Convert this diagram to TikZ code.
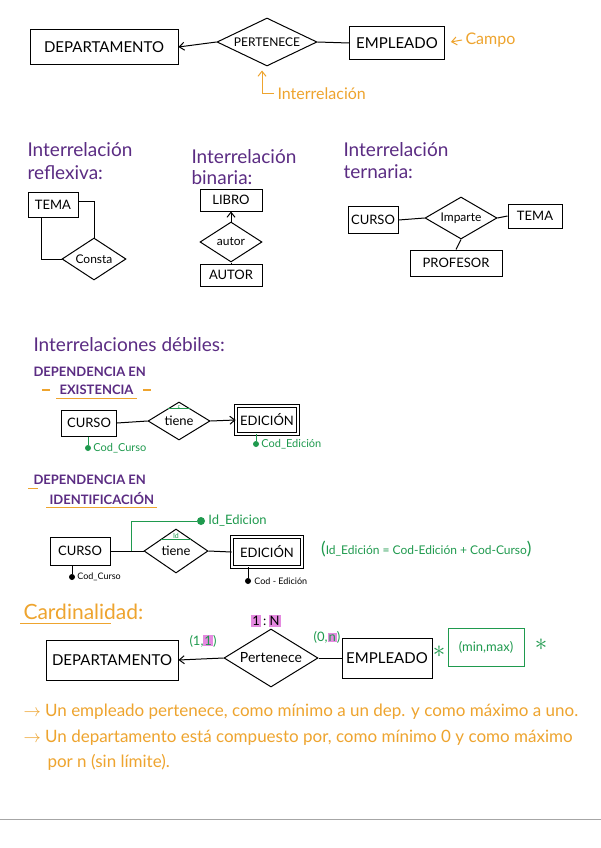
\documentclass[tikz,border=0pt]{standalone}
\usepackage{fontspec}
\setmainfont{Lato}
\usepackage{xcolor}
\usepackage{tikz}
\usetikzlibrary{arrows.meta, positioning, shapes.geometric}
\definecolor{morado}{HTML}{5B2C83}
\definecolor{naranja}{HTML}{EEA42E}
\definecolor{verde}{HTML}{1F9A4E}
\definecolor{rosa}{HTML}{E58AE0}
\newcommand{\marca}[1]{{\setlength{\fboxsep}{1pt}\colorbox{rosa}{#1}}}
\tikzset{
  >={Straight Barb[length=5pt,width=8pt]},
  % Entidades e interrelaciones
  entidad/.style={draw, line width=1pt, rectangle, inner sep=2pt, font=\fontsize{13}{15}\selectfont},
  entidad grande/.style={entidad, font=\fontsize{15}{18}\selectfont},
  entidad debil/.style={entidad, double, double distance=2.5pt, line width=0.8pt},
  interrel/.style={draw, line width=1pt, diamond, aspect=2.4, inner sep=0pt, font=\fontsize{12}{14}\selectfont},
  conecta/.style={line width=1pt},
  conecta flecha/.style={->, line width=1pt},
  % Textos
  titulo/.style={text=morado, anchor=west, font=\fontsize{19}{22}\selectfont},
  subtitulo/.style={text=morado, anchor=west, font=\bfseries\fontsize{13}{15}\selectfont},
  nota/.style={text=naranja, anchor=west, font=\fontsize{16}{19}\selectfont},
  explica/.style={nota, font=\fontsize{17}{20}\selectfont},
  subraya/.style={naranja, line width=1.2pt},
  flecha naranja/.style={->, naranja, line width=1pt},
  % Atributos
  punto/.style={circle, fill=verde, inner sep=0pt, minimum size=6},
  punto negro/.style={punto, fill=black},
  atributo/.style={text=verde, anchor=west, inner sep=1pt, font=\fontsize{11}{13}\selectfont},
  identif/.style={verde, line width=1pt},
  asterisco/.style={text=verde, inner sep=0pt, font=\fontsize{40}{40}\selectfont}
}
\begin{document}
\begin{tikzpicture}[x=1pt, y=-1pt]
  \useasboundingbox[fill=white] (0,0) rectangle (601,848);

  % Campo e interrelacion
  \node[entidad grande, minimum width=148, minimum height=35] (dep) at (104,47) {DEPARTAMENTO};
  \node[interrel, minimum width=100, minimum height=48] (pert) at (267,42) {PERTENECE};
  \node[entidad grande, minimum width=95, minimum height=33] (emp) at (397,43) {EMPLEADO};
  \draw[conecta flecha] (pert.west) -- (dep.east);
  \draw[conecta] (pert.east) -- (emp.west);
  \node[nota] (campo) at (462,40) {Campo};
  \draw[flecha naranja, shorten >=6pt] (campo.west) -- (emp.east);
  \node[nota] (interr) at (274,94) {Interrelación};
  \draw[flecha naranja] (interr.west) -| ([xshift=-5pt,yshift=-4pt]pert.south);

  % Reflexiva
  \node[titulo] (tref1) at (24,150) {Interrelación};
  \node[titulo] (tref2) at (24,173) {reflexiva:};
  \node[entidad, minimum width=50, minimum height=25] (tema1) at (53,205) {TEMA};
  \node[interrel, minimum width=64, minimum height=42] (consta) at (94,259) {Consta};
  \draw[conecta] ([yshift=4pt]tema1.east) -| (consta.north);
  \draw[conecta] ([xshift=-12pt]tema1.south) |- (consta.west);

  % Binaria
  \node[titulo] (tbin1) at (188,157) {Interrelación};
  \node[titulo] (tbin2) at (188,178) {binaria:};
  \node[entidad, minimum width=62, minimum height=22] (libro) at (231,200) {LIBRO};
  \node[interrel, minimum width=62, minimum height=40] (autor) at (231,242) {autor};
  \node[entidad, minimum width=62, minimum height=22] (autorE) at (231,275) {AUTOR};
  \draw[conecta flecha] (autor.north) -- (libro.south);
  \draw[conecta] (autor.south) -- (autorE.north);

  % Ternaria
  \node[titulo] (tter1) at (340,150) {Interrelación};
  \node[titulo] (tter2) at (340,172) {ternaria:};
  \node[entidad, minimum width=50, minimum height=27] (curso0) at (373,220) {CURSO};
  \node[interrel, minimum width=72, minimum height=42] (imparte) at (461,218) {Imparte};
  \node[entidad, minimum width=54, minimum height=24] (tema2) at (535,216) {TEMA};
  \node[entidad, minimum width=92, minimum height=26] (prof) at (456,263) {PROFESOR};
  \draw[conecta] (curso0.east) -- (imparte.west);
  \draw[conecta] (imparte.east) -- (tema2.west);
  \draw[conecta] (imparte.south) -- (prof.north);

  % Debiles: existencia
  \node[titulo] (tdeb) at (30,345) {Interrelaciones débiles:};
  \node[subtitulo] (dex1) at (30,372) {DEPENDENCIA EN};
  \node[subtitulo] (dex2) at (56,390) {EXISTENCIA};
  \draw[subraya] (dex2.south west) -- (dex2.south east);
  \draw[subraya] ([xshift=-6pt]dex2.west) -- ++(-8,0);
  \draw[subraya] ([xshift=6pt]dex2.east) -- ++(8,0);
  \node[entidad, minimum width=55, minimum height=26] (curso1) at (89,423) {CURSO};
  \node[interrel, minimum width=62, minimum height=38, font=\fontsize{13}{15}\selectfont] (tiene1) at (179,421) {tiene};
  \node[entidad debil, minimum width=62, minimum height=28] (edic1) at (267,420) {EDICIÓN};
  \draw[conecta] (curso1.east) -- (tiene1.west);
  \draw[conecta flecha] (tiene1.east) -- (edic1.west);
  \draw[identif] ([xshift=-11pt,yshift=-7pt]tiene1.north) -- ([xshift=11pt,yshift=-7pt]tiene1.north)
    node[midway, above=-1pt, inner sep=0pt, font=\tiny, text=verde] {E};
  \node[punto] (cc1) at (88,448) {};
  \node[atributo, right=1pt of cc1] (cc1t) {Cod\_Curso};
  \draw[identif] (curso1.south -| cc1) -- (cc1);
  \node[punto] (ce1) at (256,444) {};
  \node[atributo, right=1pt of ce1] (ce1t) {Cod\_Edición};
  \draw[identif] (edic1.south -| ce1) -- (ce1);

  % Debiles: identificacion
  \node[subtitulo] (did1) at (30,480) {DEPENDENCIA EN};
  \node[subtitulo] (did2) at (46,498) {IDENTIFICACIÓN};
  \draw[subraya] (did2.south west) -- (did2.south east);
  \draw[subraya] ([xshift=-2pt]did1.south west) -- ++(10,0);
  \node[entidad, minimum width=60, minimum height=28] (curso2) at (80,551) {CURSO};
  \node[interrel, minimum width=64, minimum height=44, font=\fontsize{13}{15}\selectfont] (tiene2) at (176,551) {tiene};
  \node[entidad debil, minimum width=70, minimum height=30] (edic2) at (267,552) {EDICIÓN};
  \draw[conecta] (curso2.east) -- (tiene2.west);
  \draw[conecta] (tiene2.east) -- (edic2.west);
  \draw[identif] ([xshift=-15pt,yshift=-11pt]tiene2.north) -- ([xshift=15pt,yshift=-11pt]tiene2.north)
    node[midway, above=0pt, inner sep=0pt, font=\scriptsize, text=verde] {Id};
  \coordinate (idc) at (131,551);
  \node[punto, minimum size=8] (ide) at (201,521) {};
  \node[atributo, right=2pt of ide, font=\fontsize{13}{15}\selectfont] (idet) {Id\_Edicion};
  \draw[identif] (idc) |- (ide);
  \node[punto negro] (cc2) at (72,577) {};
  \node[atributo, right=1pt of cc2, text=black, font=\fontsize{9}{11}\selectfont] (cc2t) {Cod\_Curso};
  \draw[conecta] (curso2.south -| cc2) -- (cc2);
  \node[punto negro] (ce2) at (248,581) {};
  \node[atributo, right=2pt of ce2, text=black, font=\fontsize{9}{11}\selectfont] (ce2t) {Cod - Edición};
  \draw[conecta] (edic2.south -| ce2) -- (ce2);
  \node[atributo, font=\fontsize{12}{14}\selectfont] (formula) at (320,549)
    {{\LARGE(}Id\_Edición = Cod-Edición + Cod-Curso{\LARGE)}};

  % Cardinalidad
  \node[nota, font=\fontsize{21}{25}\selectfont] (card) at (20,612) {Cardinalidad:};
  \draw[subraya] (card.south west) -- ([xshift=-36pt]card.south east);
  \node[font=\fontsize{13}{15}\selectfont] (uno) at (266,621) {\marca{1}\,:\,\marca{N}};
  \node[entidad grande, minimum width=132, minimum height=40] (dep2) at (112,660) {DEPARTAMENTO};
  \node[interrel, minimum width=94, minimum height=58, font=\fontsize{14}{16}\selectfont] (pert2) at (271,658) {Pertenece};
  \node[entidad grande, minimum width=90, minimum height=40] (emp2) at (387,658) {EMPLEADO};
  \draw[conecta flecha] (pert2.west) -- (dep2.east);
  \draw[conecta] (pert2.east) -- (emp2.west);
  \node[text=verde, font=\fontsize{13}{15}\selectfont] (c11) at (203,641) {(1,\marca{1})};
  \node[text=verde, font=\fontsize{13}{15}\selectfont] (c0n) at (327,637) {(0,\marca{n})};
  \node[draw=verde, line width=1pt, text=verde, minimum width=76, minimum height=38,
    font=\fontsize{13}{15}\selectfont] (minmax) at (486,647) {(min,max)};
  \node[asterisco] (ast1) at (439,652) {$\ast$};
  \node[asterisco] (ast2) at (541,645) {$\ast$};

  \node[explica] (linea1) at (20,712) {$\rightarrow$\ Un empleado pertenece, como mínimo a un dep. y como máximo a uno.};
  \node[explica] (linea2) at (20,738) {$\rightarrow$\ Un departamento está compuesto por, como mínimo 0 y como máximo};
  \node[explica] (linea3) at (44,762) {por n (sin límite).};

  \draw[gray!70, line width=0.8pt] (0,819) -- (601,819);
\end{tikzpicture}
\end{document}
